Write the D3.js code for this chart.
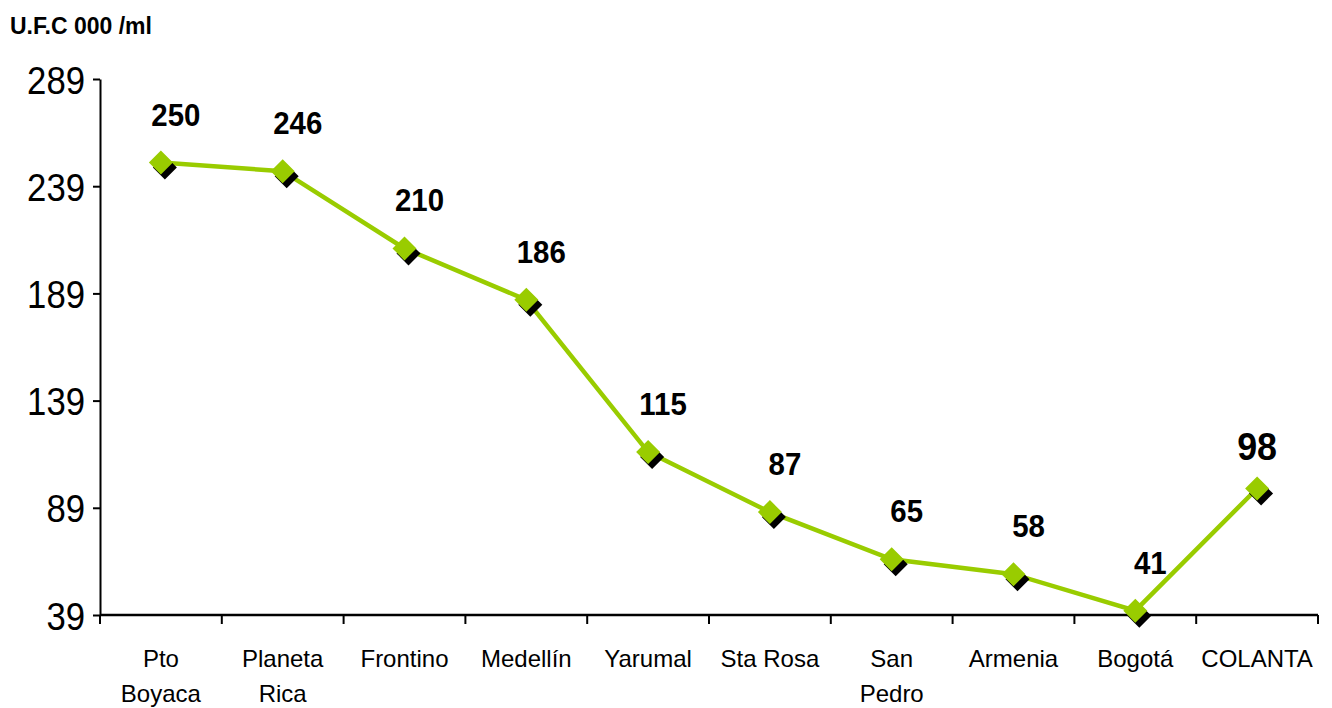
<!DOCTYPE html>
<html lang="es">
<head>
<meta charset="utf-8">
<title>U.F.C 000 /ml</title>
<script src="https://cdn.jsdelivr.net/npm/d3@7"></script>
<style>
  body { margin: 0; background: #fff; }
  svg text { font-family: Arial, "Liberation Sans", sans-serif; fill: #000; }
  .title { font-weight: bold; font-size: 23px; }
  .yaxis text { font-size: 39px; }
  .cat { font-size: 24px; text-anchor: middle; }
  .val { font-weight: bold; font-size: 32px; text-anchor: middle; }
</style>
</head>
<body>
<svg width="1332" height="708"></svg>
<script>
  // data
  var categories = [["Pto", "Boyaca"], ["Planeta", "Rica"], ["Frontino"], ["Medellín"], ["Yarumal"],
                    ["Sta Rosa"], ["San", "Pedro"], ["Armenia"], ["Bogotá"], ["COLANTA"]];
  var values = [250, 246, 210, 186, 115, 87, 65, 58, 41, 98];
  var yTicks = [39, 89, 139, 189, 239, 289];

  var svg = d3.select("svg");
  var plotL = 100, plotR = 1318, plotT = 79, plotB = 615;
  var squeeze = 0.89;   // the original uses a narrow face

  var names = categories.map(function(c) { return c.join(" "); });
  var x = d3.scaleBand().domain(names).range([plotL, plotR]).padding(0);
  var y = d3.scaleLinear().domain([39, 289]).range([plotB, plotT]);
  var cx = function(i) { return x(names[i]) + x.bandwidth() / 2; };

  svg.append("text").attr("class", "title").attr("x", 10).attr("y", 34).text("U.F.C 000 /ml");

  // y axis
  var yAxis = svg.append("g").attr("class", "yaxis")
    .attr("transform", "translate(" + plotL + ",0)")
    .call(d3.axisLeft(y).tickValues(yTicks).tickSize(7).tickSizeOuter(0).tickPadding(8));
  yAxis.attr("font-family", null).attr("font-size", null);
  yAxis.select(".domain").attr("stroke", "#000").attr("stroke-width", 2);
  yAxis.selectAll(".tick line").attr("stroke", "#000").attr("stroke-width", 2);
  yAxis.selectAll(".tick text").attr("dy", "0.36em")
    .attr("x", -15 / squeeze).attr("transform", "scale(" + squeeze + ",1)");

  // x axis with ticks between categories
  var xg = svg.append("g");
  xg.append("line").attr("x1", plotL).attr("x2", plotR).attr("y1", plotB).attr("y2", plotB)
    .attr("stroke", "#000").attr("stroke-width", 2.5);
  var edges = names.map(function(n) { return x(n); }).concat([plotR]);
  xg.selectAll(".xt").data(edges).enter().append("line")
    .attr("x1", function(d) { return d; }).attr("x2", function(d) { return d; })
    .attr("y1", plotB).attr("y2", plotB + 9)
    .attr("stroke", "#000").attr("stroke-width", 2);

  var cat = xg.selectAll(".cat").data(categories).enter().append("text")
    .attr("class", "cat")
    .attr("x", function(d, i) { return cx(i); })
    .attr("y", 667);
  cat.selectAll("tspan").data(function(d) { return d; }).enter().append("tspan")
    .attr("x", function() { return d3.select(this.parentNode).attr("x"); })
    .attr("dy", function(d, i) { return i ? 35 : 0; })
    .text(function(d) { return d; });

  // line
  var line = d3.line().x(function(d, i) { return cx(i); }).y(function(d) { return y(d); });
  svg.append("path").datum(values).attr("d", line)
    .attr("fill", "none").attr("stroke", "#99cc00").attr("stroke-width", 4.5);

  // markers: black shadow + green diamond
  var diamond = "M0,-12L12,0L0,12L-12,0Z";
  var pts = svg.selectAll(".pt").data(values).enter().append("g")
    .attr("transform", function(d, i) { return "translate(" + cx(i) + "," + y(d) + ")"; });
  pts.append("path").attr("d", diamond).attr("transform", "translate(4,5)").attr("fill", "#000");
  pts.append("path").attr("d", diamond).attr("fill", "#99cc00");

  // value labels
  var last = values.length - 1;
  svg.selectAll(".val").data(values).enter().append("text")
    .attr("class", "val")
    .attr("transform", function(d, i) {
      var lx = cx(i) + (i === last ? 0 : 15), ly = y(d) - (i === last ? 29 : 37);
      return "translate(" + lx + "," + ly + ") scale(0.92,1)";
    })
    .style("font-size", function(d, i) { return i === last ? "39px" : null; })
    .text(function(d) { return d; });
</script>
</body>
</html>
